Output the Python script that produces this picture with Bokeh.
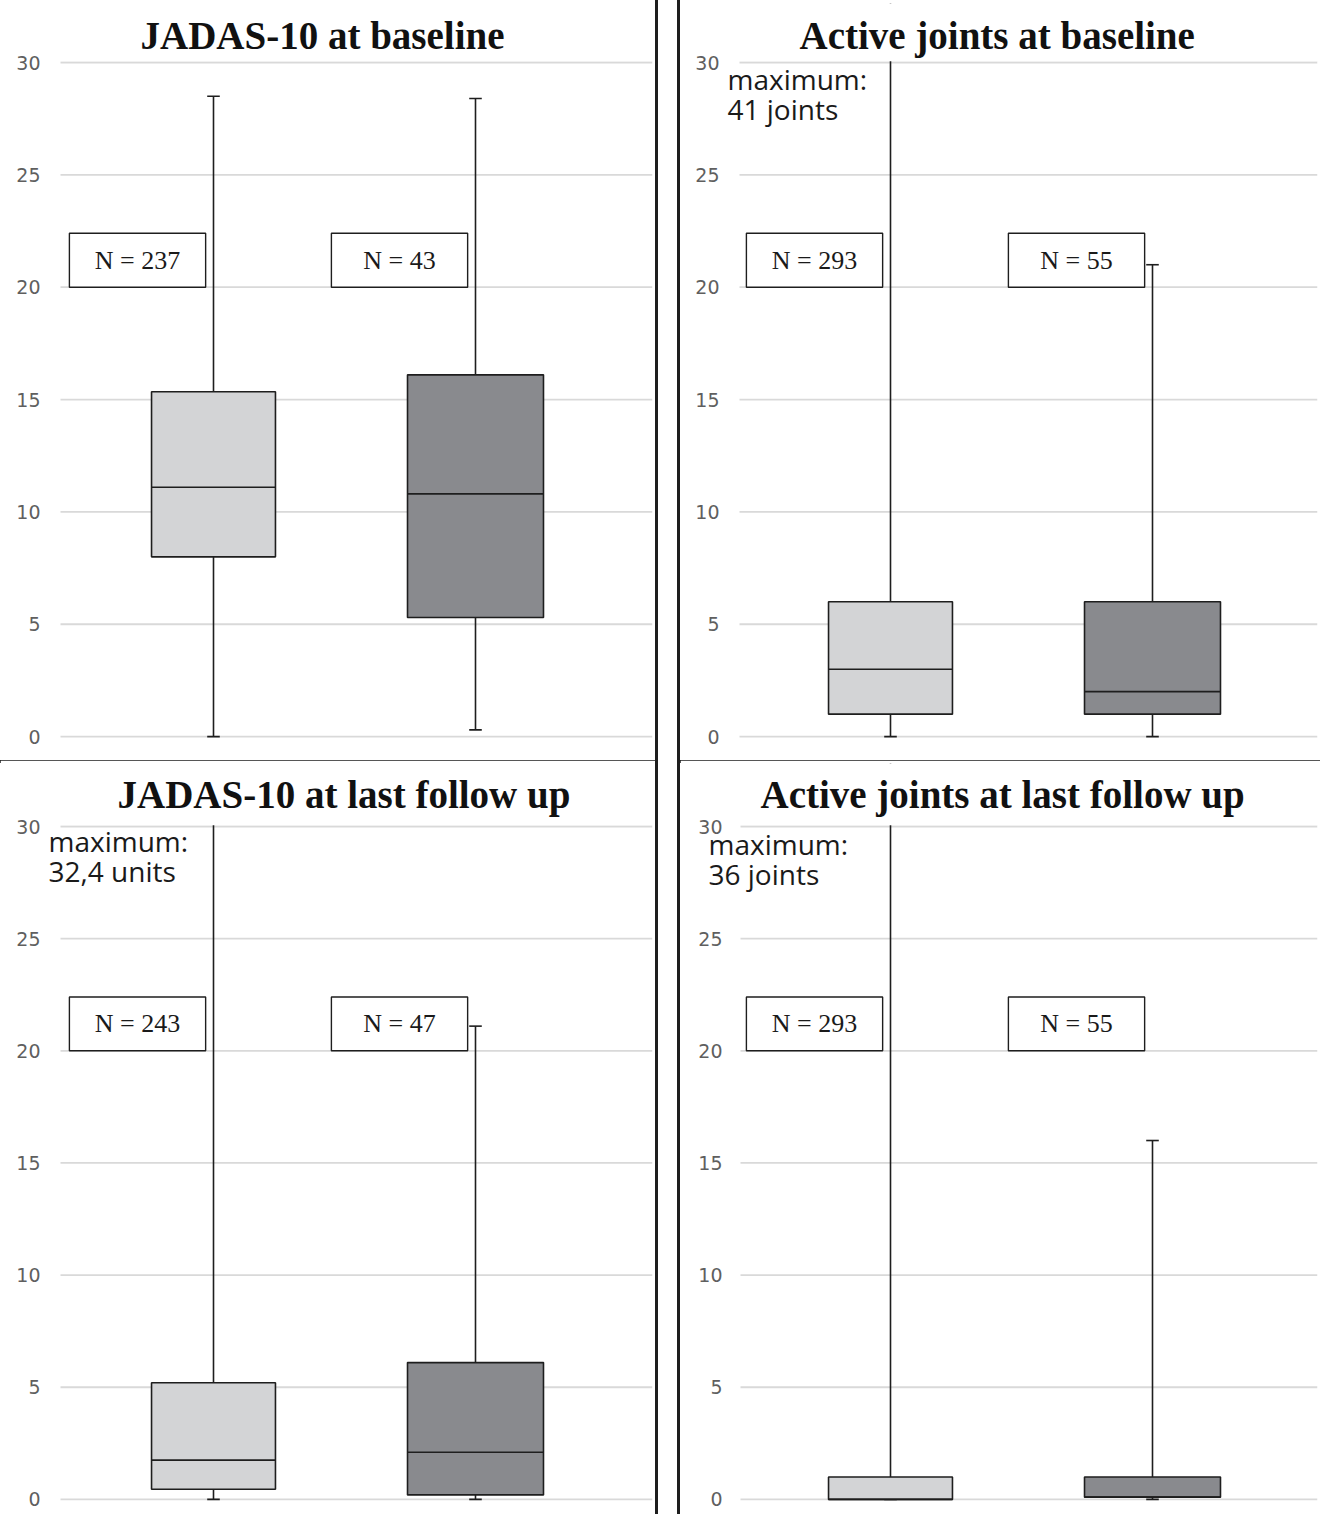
from bokeh.plotting import figure
from bokeh.models import Range1d, FixedTicker, Label, ColumnDataSource, Spacer, BoxAnnotation
from bokeh.layouts import row, column
from bokeh.embed import file_html
from bokeh.resources import INLINE
from bokeh.core.properties import value

# ---------------- data ----------------
groups = ["Group 1", "Group 2"]
fill_colors = ["#d3d4d6", "#898a8e"]
y_ticks = [0, 5, 10, 15, 20, 25, 30]

titles = ["JADAS-10 at baseline", "Active joints at baseline",
          "JADAS-10 at last follow up", "Active joints at last follow up"]

# JADAS-10 at baseline
jb_min = [0.0, 0.3]
jb_q1 = [8.0, 5.3]
jb_med = [11.1, 10.8]
jb_q3 = [15.35, 16.1]
jb_max = [28.5, 28.4]
jb_n = [237, 43]

# Active joints at baseline
ab_min = [0, 0]
ab_q1 = [1, 1]
ab_med = [3, 2]
ab_q3 = [6, 6]
ab_max = [41, 21]
ab_n = [293, 55]

# JADAS-10 at last follow up
jf_min = [0.0, 0.0]
jf_q1 = [0.45, 0.2]
jf_med = [1.75, 2.1]
jf_q3 = [5.2, 6.1]
jf_max = [32.4, 21.1]
jf_n = [243, 47]

# Active joints at last follow up
af_min = [0, 0]
af_q1 = [0, 0.1]
af_med = [0, 0.1]
af_q3 = [1, 1]
af_max = [36, 16]
af_n = [293, 55]

notes = [None, "maximum:\n41 joints", "maximum:\n32,4 units", "maximum:\n36 joints"]

# ---------------- layout helpers ----------------
PX_X = 262.0          # pixels per group step
BOX_W = [0.473, 0.519]
CAP = 0.024
NBOX_OFF = -0.29
NBOX_HALF = 0.26
LC = "#1e1e1e"
Y_TOP = 30            # visible axis maximum


def make_panel(title, mins, q1s, meds, q3s, maxs, ns, note, width, height, b_bottom,
               top_gap_px, px_y, center0, grid_start, standoff,
               title_left_px, title_rise_px, note_x, note_y, css):
    b_left, b_right, b_top = 3, 3, 3
    frame_w = width - b_left - b_right
    frame_h = height - b_top - b_bottom
    y_end = Y_TOP + (top_gap_px - b_top) / px_y
    y_start = y_end - frame_h / px_y
    x_start = (b_left - center0) / PX_X
    x_end = x_start + frame_w / PX_X
    gx = (grid_start - center0) / PX_X
    p = figure(width=width, height=height, output_backend="svg", toolbar_location=None,
               x_range=Range1d(x_start, x_end), y_range=Range1d(y_start, y_end),
               x_axis_location=None, min_border_left=b_left, min_border_right=b_right,
               min_border_top=b_top, min_border_bottom=b_bottom,
               background_fill_color="white", border_fill_color="white",
               styles=css)
    p.outline_line_color = None
    p.xgrid.visible = False
    p.ygrid.visible = False
    ax = p.yaxis[0]
    ax.ticker = FixedTicker(ticks=y_ticks)
    ax.fixed_location = gx
    ax.axis_line_color = None
    ax.major_tick_line_color = None
    ax.minor_tick_line_color = None
    ax.major_label_standoff = standoff
    ax.major_label_text_font = "DejaVu Sans"
    ax.major_label_text_font_size = "19px"
    ax.major_label_text_color = "#5f5f5f"

    # horizontal grid lines at the tick values
    gsrc = ColumnDataSource(dict(x0=[gx] * len(y_ticks), x1=[x_end] * len(y_ticks),
                                 y=y_ticks))
    p.segment(x0="x0", x1="x1", y0="y", y1="y", source=gsrc,
              line_color="#d9d9d9", line_width=1.8, level="underlay")

    xs = list(range(len(groups)))
    src = ColumnDataSource(dict(
        x=xs,
        left=[x - w / 2 for x, w in zip(xs, BOX_W)],
        right=[x + w / 2 for x, w in zip(xs, BOX_W)],
        cap_l=[x - CAP for x in xs],
        cap_r=[x + CAP for x in xs],
        mn=mins, q1=q1s, med=meds, q3=q3s, mx=maxs,
        color=fill_colors,
        nb_x=[x + NBOX_OFF for x in xs],
        nb_l=[x + NBOX_OFF - NBOX_HALF for x in xs],
        nb_r=[x + NBOX_OFF + NBOX_HALF for x in xs],
        nb_b=[20.0 for _ in xs],
        nb_t=[22.4 for _ in xs],
        nb_y=[21.2 for _ in xs],
        ntext=[f"N = {n}" for n in ns],
    ))
    # whiskers
    p.segment(x0="x", y0="q3", x1="x", y1="mx", source=src, line_color=LC, line_width=1.6)
    p.segment(x0="x", y0="q1", x1="x", y1="mn", source=src, line_color=LC, line_width=1.6)
    p.segment(x0="cap_l", y0="mx", x1="cap_r", y1="mx", source=src, line_color=LC, line_width=1.6)
    p.segment(x0="cap_l", y0="mn", x1="cap_r", y1="mn", source=src, line_color=LC, line_width=1.6)
    # boxes
    p.quad(left="left", right="right", bottom="q1", top="q3", source=src,
           fill_color="color", line_color=LC, line_width=1.6)
    p.segment(x0="left", y0="med", x1="right", y1="med", source=src, line_color=LC, line_width=1.6)
    # the value axis stops at 30: hide whatever lies above it
    p.add_layout(BoxAnnotation(left=x_start - 1, right=x_end + 1, bottom=Y_TOP + 0.06,
                               top=y_end + 1, fill_color="white", fill_alpha=1.0,
                               line_color=None, level="glyph"))
    # N boxes
    p.quad(left="nb_l", right="nb_r", bottom="nb_b", top="nb_t", source=src,
           fill_color="white", line_color=LC, line_width=1.4)
    p.text(x="nb_x", y="nb_y", text="ntext", source=src, text_align="center",
           text_baseline="middle", text_font=value("Liberation Serif"),
           text_font_size="26px", text_color="#1a1a1a")
    # panel title
    p.add_layout(Label(x=(title_left_px - center0) / PX_X, y=Y_TOP + title_rise_px / px_y,
                       text=title, text_font="Liberation Serif", text_font_style="bold",
                       text_font_size="39px", text_color="#111111",
                       text_align="left", text_baseline="middle"))
    if note:
        p.add_layout(Label(x=note_x, y=note_y, text=note, text_font="Open Sans",
                           text_font_size="28px", text_color="#1a1a1a",
                           text_baseline="top", text_align="left",
                           text_line_height=0.8))
    return p


C = "#1e1e1e"
tl_css = {"box-shadow": f"0 0 0 3px {C}"}
tr_css = {"box-shadow": f"-3px 0 0 0 {C}, 0 -3px 0 0 {C}, 0 3px 0 0 {C}"}
bl_css = {"box-shadow": f"-3px 0 0 0 {C}, 3px 0 0 0 {C}"}
br_css = {"box-shadow": f"-3px 0 0 0 {C}"}

# panel origins on the page: left column x=8, right column x=688; rows y=8 and y=768
p1 = make_panel(titles[0], jb_min, jb_q1, jb_med, jb_q3, jb_max, jb_n, notes[0],
                655, 760, 8, 70 - 8, 22.47, 221 - 8, 68 - 8, 14,
                148 - 8, 27.5, 0, 0, tl_css)
p2 = make_panel(titles[1], ab_min, ab_q1, ab_med, ab_q3, ab_max, ab_n, notes[1],
                640, 760, 8, 70 - 8, 22.47, 898 - 688, 747 - 688, 14,
                807 - 688, 27.5, (735 - 898) / PX_X, 30.13, tr_css)
p3 = make_panel(titles[2], jf_min, jf_q1, jf_med, jf_q3, jf_max, jf_n, notes[2],
                655, 754, 4, 834 - 768, 22.43, 221 - 8, 68 - 8, 14,
                125 - 8, 32, (56 - 221) / PX_X, 30.21, bl_css)
p4 = make_panel(titles[3], af_min, af_q1, af_med, af_q3, af_max, af_n, notes[3],
                640, 754, 4, 834 - 768, 22.43, 898 - 688, 748 - 688, 12,
                768 - 688, 32, (716 - 898) / PX_X, 30.07, br_css)

layout = column(row(p1, Spacer(width=25), p2), row(p3, Spacer(width=25), p4))

open("out.html", "w").write(file_html(layout, INLINE))
